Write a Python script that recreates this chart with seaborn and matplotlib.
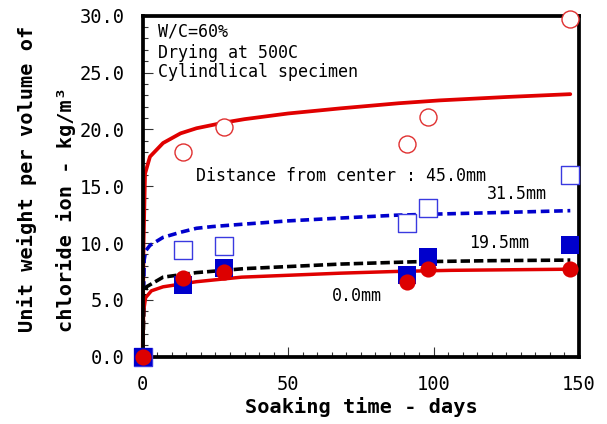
import matplotlib
matplotlib.use("Agg")
import matplotlib.pyplot as plt
import seaborn as sns
import numpy as np
from matplotlib.ticker import MultipleLocator, FormatStrFormatter

# measured chloride content (kg/m3) at each distance from the specimen center
days = [0, 14, 28, 91, 98, 147]
cl_450 = [0, 18.0, 20.2, 18.7, 21.05, 29.7]
cl_315 = [0, 9.4, 9.7, 11.8, 13.05, 16.0]
cl_195 = [0, 6.3, 7.8, 7.2, 8.75, 9.8]
cl_000 = [0, 6.95, 7.45, 6.6, 7.7, 7.7]

# calculated curves
fit_450_x = [0, 0.3, 0.8, 2.5, 7, 13, 18.5, 28, 35, 50, 68, 88, 102, 125, 147]
fit_450_y = [0, 10.0, 16.1, 17.6, 18.8, 19.65, 20.1, 20.6, 20.9, 21.4, 21.85, 22.3, 22.55, 22.85, 23.1]
fit_315_x = [0, 0.5, 1, 2.5, 7, 13, 18.5, 24, 34, 50, 68, 87, 101, 125, 147]
fit_315_y = [0, 8.5, 9.3, 9.8, 10.5, 10.95, 11.3, 11.45, 11.65, 11.95, 12.2, 12.45, 12.55, 12.7, 12.85]
fit_195_x = [0, 0.5, 1.3, 7, 18.5, 35, 68, 93, 120, 147]
fit_195_y = [0, 5.0, 6.15, 7.0, 7.4, 7.75, 8.15, 8.35, 8.45, 8.5]
fit_000_x = [0, 0.3, 1, 3, 7, 18.5, 34, 68, 87, 106, 147]
fit_000_y = [0, 4.0, 5.2, 5.8, 6.15, 6.6, 7.0, 7.35, 7.5, 7.6, 7.7]

sns.set_style("white")
plt.rcParams['font.family'] = ['DejaVu Sans Mono']
plt.rcParams['text.color'] = 'black'
plt.rcParams['xtick.color'] = '#333333'
plt.rcParams['ytick.color'] = '#333333'
plt.rcParams['xtick.labelcolor'] = 'black'
plt.rcParams['ytick.labelcolor'] = 'black'

fig = plt.figure(figsize=(6.07, 4.24), dpi=100)
ax = fig.add_axes([0.2351, 0.1587, 0.7188, 0.8042])

red = '#E00000'
blue = '#0000CC'

# curves
sns.lineplot(x=fit_450_x, y=fit_450_y, color=red, linewidth=2.7, ax=ax, clip_on=False)
sns.lineplot(x=fit_315_x, y=fit_315_y, color=blue, linewidth=2.6, linestyle=(0, (2.4, 1.3)), ax=ax, clip_on=False)
sns.lineplot(x=fit_195_x, y=fit_195_y, color='black', linewidth=2.6, linestyle=(0, (2.6, 1.1)), ax=ax, clip_on=False)
sns.lineplot(x=fit_000_x, y=fit_000_y, color=red, linewidth=2.5, ax=ax, clip_on=False)

# measured points
sns.scatterplot(x=days, y=cl_450, marker='o', s=150, color='white', edgecolor='#E03030',
                linewidth=1.0, zorder=6, clip_on=False, ax=ax)
sns.scatterplot(x=days, y=cl_315, marker='s', s=160, color='white', edgecolor='#3A3AE0',
                linewidth=1.0, zorder=6, clip_on=False, ax=ax)
sns.scatterplot(x=days, y=cl_195, marker='s', s=185, color=blue, linewidth=0,
                zorder=7, clip_on=False, ax=ax)
sns.scatterplot(x=days, y=cl_000, marker='o', s=135, color='#DD0000', linewidth=0,
                zorder=8, clip_on=False, ax=ax)

ax.set_xlim(0, 150)
ax.set_ylim(0, 30)
ax.xaxis.set_major_locator(MultipleLocator(50))
ax.xaxis.set_minor_locator(MultipleLocator(5))
ax.yaxis.set_major_locator(MultipleLocator(5))
ax.yaxis.set_minor_locator(MultipleLocator(1))
ax.yaxis.set_major_formatter(FormatStrFormatter('%.1f'))
ax.tick_params(which='both', direction='in', bottom=True, left=True, top=False, right=False,
               color='#333333', width=0.8)
ax.tick_params(which='major', length=7.5, pad=13, labelsize=13.5, labelcolor='black')
ax.tick_params(which='minor', length=3.5)
for sp in ax.spines.values():
    sp.set_linewidth(2.7)
    sp.set_color('black')

# annotations
ax.text(5.4, 28.15, 'W/C=60%', fontsize=12, va='baseline')
ax.text(5.4, 26.25, 'Drying at 500C', fontsize=12, va='baseline')
ax.text(5.4, 24.58, 'Cylindlical specimen', fontsize=12, va='baseline')
ax.text(18.3, 15.45, 'Distance from center : 45.0mm', fontsize=12, va='baseline')
ax.text(139.1, 13.85, '31.5mm', fontsize=12, va='baseline', ha='right')
ax.text(112.3, 9.53, '19.5mm', fontsize=12, va='baseline')
ax.text(65.0, 4.9, '0.0mm', fontsize=12, va='baseline')

# axis titles
fig.text(361 / 607, 1 - 413 / 424, 'Soaking time - days', fontsize=14.6, fontweight='bold',
         ha='center', va='baseline')
fig.text(33.3 / 607, 1 - 332 / 424, 'Unit weight per volume of', fontsize=14.6, fontweight='bold',
         rotation=90, rotation_mode='anchor', ha='left', va='baseline')
fig.text(71.7 / 607, 1 - 332 / 424, 'chloride ion - kg/m\u00b3', fontsize=14.6, fontweight='bold',
         rotation=90, rotation_mode='anchor', ha='left', va='baseline')

fig.savefig('out.png', dpi=100)
